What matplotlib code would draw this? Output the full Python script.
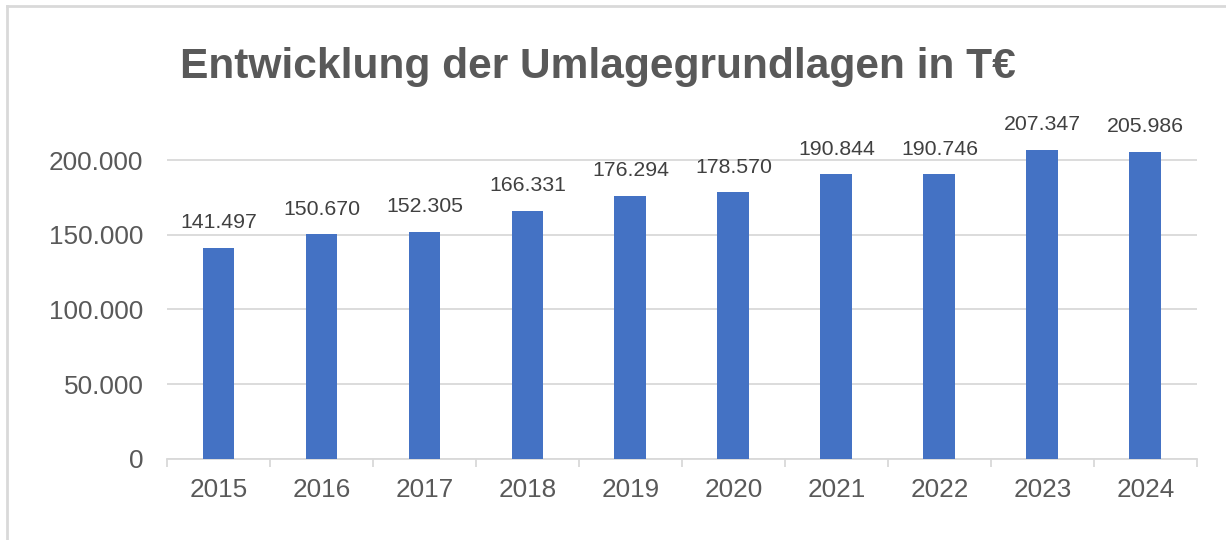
import matplotlib.pyplot as plt
from matplotlib.ticker import FuncFormatter

plt.rcParams['font.family'] = ['Liberation Sans', 'DejaVu Sans']

years = ['2015', '2016', '2017', '2018', '2019', '2020', '2021', '2022', '2023', '2024']
values = [141497, 150670, 152305, 166331, 176294, 178570, 190844, 190746, 207347, 205986]
yticks = [0, 50000, 100000, 150000, 200000]


def de_fmt(v, pos=None):
    return f'{int(v):,}'.replace(',', '.')


fig = plt.figure(figsize=(12.26, 5.4), dpi=100)
ax = fig.add_axes([0.1362, 0.1509, 0.8401, 0.5795])

x = range(len(years))
ax.bar(x, values, width=0.31, color='#4472c4', zorder=3)

for i, v in enumerate(values):
    ax.annotate(de_fmt(v), (i, v), xytext=(0, 14), textcoords='offset points',
                ha='center', va='baseline', fontsize=15.3, color='#404040')

ax.set_xlim(-0.5, len(years) - 0.5)
ax.set_ylim(0, 210000)
ax.set_yticks(yticks)
ax.yaxis.set_major_formatter(FuncFormatter(de_fmt))
ax.set_xticks(list(x))
ax.set_xticklabels(years)

ax.grid(axis='y', color='#d9d9d9', linewidth=1.3, zorder=0)
for s in ['top', 'right', 'left']:
    ax.spines[s].set_visible(False)
ax.spines['bottom'].set_color('#d9d9d9')
ax.spines['bottom'].set_linewidth(1.3)

ax.tick_params(axis='y', length=0, pad=17, labelsize=18.8, labelcolor='#595959')
ax.tick_params(axis='x', length=0, pad=14, labelsize=18.8, labelcolor='#595959')
# tick marks between categories
ax.set_xticks([i - 0.5 for i in range(len(years) + 1)], minor=True)
ax.tick_params(axis='x', which='minor', length=6, width=1.3, color='#d9d9d9')

fig.text(0.488, 0.856, 'Entwicklung der Umlagegrundlagen in T€', ha='center', va='baseline',
         fontsize=30.6, fontweight='bold', color='#595959')

# outer chart frame (only left and top visible)
fig.add_artist(plt.Line2D([0.0057, 0.0057], [0, 0.989], color='#d9d9d9', linewidth=2))
fig.add_artist(plt.Line2D([0.0057, 1], [0.989, 0.989], color='#d9d9d9', linewidth=2))

fig.savefig('out.png', dpi=100)
